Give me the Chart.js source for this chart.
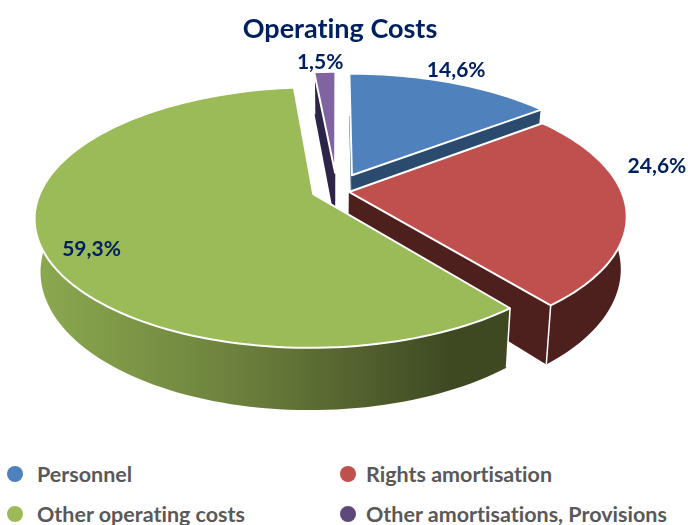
<!DOCTYPE html>
<html>
<head>
<meta charset="utf-8">
<title>Operating Costs</title>
<script src="https://cdn.jsdelivr.net/npm/chart.js@4"></script>
<style>
    html, body { margin: 0; padding: 0; background: #fff; }
    #wrap { position: relative; width: 688px; height: 525px; overflow: hidden; }
    #chart { position: absolute; left: 0; top: 0; }
    #legend span { position: absolute; white-space: nowrap; font: bold 21.5px Lato, sans-serif; font-variant-ligatures: none; color: #595959; }
    #legend i { position: absolute; width: 16px; height: 16px; border-radius: 50%; }
</style>
</head>
<body>
<div id="wrap">
    <canvas id="chart" width="688" height="445"></canvas>
    <div id="legend"></div>
</div>
<script>
const categories = ['Personnel', 'Rights amortisation', 'Other operating costs', 'Other amortisations, Provisions'];
const values = [14.6, 24.6, 59.3, 1.5];
const chartTitle = 'Operating Costs';

const topColors = ['#4f81bd', '#c0504d', '#9bbb59', '#8064a2'];
const wallColors = ['#2a4a6e', '#4d1f1d', null, '#2e2448'];
const legendColors = ['#4f81bd', '#c0504d', '#9bbb59', '#5f497a'];
const explode = [26, 12, 12, 27];
const sideShift = [5, 1, 0, 7];

// Flat pie seen in perspective: y grows toward the viewer
const view = { cx: 330, cy: 191, d: 5.6, f: 1525, k: 700, h: 285 };

// Label placement: radius factor and angle nudge (radians) around slice middle
const labelPlace = [
    { r: 1.29, da: -0.01 },
    { r: 1.26, da: -0.28 },
    { r: 0.915, da: -0.10 },
    { r: 1.26, da: 0.012 }
];

function project(x, y, z) {
    const den = view.d - y;
    return {
        x: view.cx + view.f * x / den * (1 - 0.02 * z),
        y: view.cy + (view.k * y + view.h * z) / den
    };
}

function rimPoints(arc, z, shift) {
    const e = arc.options.offset / arc.outerRadius;
    const mid = (arc.startAngle + arc.endAngle) / 2;
    const ox = Math.cos(mid) * e;
    const oy = Math.sin(mid) * e;
    const steps = Math.max(2, Math.ceil((arc.endAngle - arc.startAngle) / 0.03));
    const at = (x, y) => {
        const p = project(x, y, z);
        return { x: p.x + shift, y: p.y };
    };
    const pts = [];
    for (let i = 0; i <= steps; i++) {
        const a = arc.startAngle + (arc.endAngle - arc.startAngle) * i / steps;
        pts.push(at(ox + Math.cos(a), oy + Math.sin(a)));
    }
    return { apex: at(ox, oy), pts };
}

function fillPoly(ctx, pts, fill, stroke, width) {
    ctx.beginPath();
    pts.forEach((p, i) => i ? ctx.lineTo(p.x, p.y) : ctx.moveTo(p.x, p.y));
    ctx.closePath();
    ctx.fillStyle = fill;
    ctx.fill();
    if (stroke) {
        ctx.lineJoin = 'round';
        ctx.strokeStyle = stroke;
        ctx.lineWidth = width;
        ctx.stroke();
    }
}

function whiteEdge(ctx, a, b) {
    ctx.beginPath();
    ctx.moveTo(a.x, a.y);
    ctx.lineTo(b.x, b.y);
    ctx.strokeStyle = '#fff';
    ctx.lineWidth = 1.5;
    ctx.stroke();
}

const perspectivePie = {
    id: 'perspectivePie',
    beforeDraw(chart) {
        // Lato would join "ti" otherwise
        chart.ctx.textRendering = 'optimizeSpeed';
    },
    beforeDatasetDraw(chart) {
        const ctx = chart.ctx;
        const arcs = chart.getDatasetMeta(0).data;

        const greenWall = ctx.createLinearGradient(40, 0, 450, 0);
        greenWall.addColorStop(0, '#8ba84f');
        greenWall.addColorStop(0.5, '#6b7f3c');
        greenWall.addColorStop(1, '#3e4922');

        // back to front, so nearer slices cover the walls behind them
        [3, 0, 1, 2].forEach(i => {
            const arc = arcs[i];
            const top = rimPoints(arc, 0, sideShift[i]);
            const low = rimPoints(arc, 1, sideShift[i]);
            const wall = wallColors[i] || greenWall;
            const last = top.pts.length - 1;

            fillPoly(ctx, [top.apex, top.pts[0], low.pts[0], low.apex], wall);
            fillPoly(ctx, [top.apex, top.pts[last], low.pts[last], low.apex], wall);
            fillPoly(ctx, top.pts.concat(low.pts.slice().reverse()), wall);
            whiteEdge(ctx, top.pts[0], low.pts[0]);
            whiteEdge(ctx, top.pts[last], low.pts[last]);
            fillPoly(ctx, [top.apex].concat(top.pts), arc.options.backgroundColor, arc.options.borderColor, arc.options.borderWidth);
        });

        ctx.font = 'bold 21px Lato, sans-serif';
        ctx.fillStyle = '#002060';
        ctx.textAlign = 'center';
        ctx.textBaseline = 'middle';
        arcs.forEach((arc, i) => {
            const place = labelPlace[i];
            const a = (arc.startAngle + arc.endAngle) / 2 + place.da;
            const p = project(Math.cos(a) * place.r, Math.sin(a) * place.r, 0);
            ctx.fillText(values[i].toFixed(1).replace('.', ',') + '%', p.x, p.y);
        });
        return false; // the arcs above replace the flat ones
    }
};

new Chart(document.getElementById('chart'), {
    type: 'pie',
    data: {
        labels: categories,
        datasets: [{
            data: values,
            backgroundColor: topColors,
            borderColor: '#fff',
            borderWidth: 2,
            offset: explode
        }]
    },
    options: {
        responsive: false,
        animation: false,
        layout: { padding: { right: 8 } },
        plugins: {
            legend: { display: false },
            tooltip: { enabled: false },
            title: {
                display: true,
                text: chartTitle,
                color: '#002060',
                font: { family: 'Lato, sans-serif', size: 27, weight: 'bold' },
                padding: { top: 13, bottom: 8 }
            }
        }
    },
    plugins: [perspectivePie]
});

// Legend laid out as two rows of two
const legendEl = document.getElementById('legend');
const dotCols = [7, 340];
const textCols = [37, 366];
const legendRows = [474, 514];
categories.forEach((name, i) => {
    const row = legendRows[Math.floor(i / 2)];
    const dot = document.createElement('i');
    dot.style.cssText = `left:${dotCols[i % 2]}px;top:${row - 8}px;background:${legendColors[i]}`;
    const text = document.createElement('span');
    text.textContent = name;
    text.style.cssText = `left:${textCols[i % 2]}px;top:${row - 13}px`;
    legendEl.append(dot, text);
});
</script>
</body>
</html>
